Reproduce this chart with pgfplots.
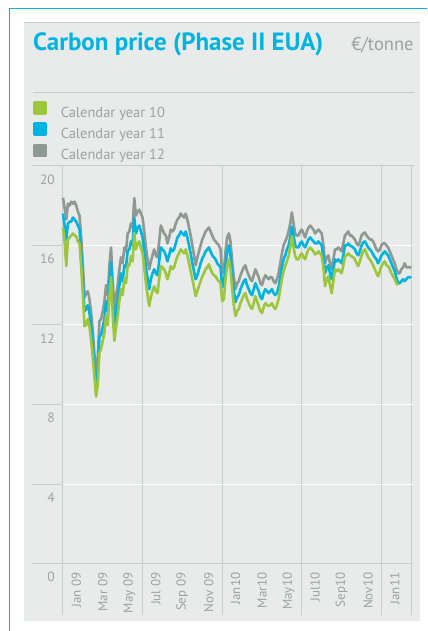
\documentclass[border=0pt]{standalone}
\usepackage{fontspec}
\setmainfont{PT Sans}
\usepackage{pgfplots}
\usepackage{pgfplotstable}
\pgfplotsset{compat=1.18}
\definecolor{cgreen}{HTML}{9CC63B}
\definecolor{ccyan}{HTML}{00B4E1}
\definecolor{cgray}{HTML}{8E9993}
\definecolor{panel}{HTML}{E9EBEA}
\definecolor{rule}{HTML}{C5CCCA}
\definecolor{txt}{HTML}{9BA29F}
\pgfplotstableread{
m g c y
0.000 16.9 17.6 18.4
0.125 16.2 17.0 17.9
0.250 14.96 16.3 17.3
0.375 16.3 17.1 18.1
0.500 16.4 17.2 18.0
0.625 16.5 17.2 18.2
0.750 16.6 17.4 18.1
0.875 16.5 17.3 18.2
1.000 16.45 17.2 18.0
1.125 16.2 17.0 17.7
1.250 16.1 16.8 17.5
1.375 14.9 15.6 16.4
1.500 13.5 14.2 15.0
1.625 11.94 12.7 13.4
1.750 12.0 12.8 13.6
1.875 12.3 13.0 13.7
2.000 11.9 12.6 13.3
2.125 11.2 11.9 12.6
2.250 10.35 11.0 11.7
2.375 9.36 9.9 10.5
2.500 8.4 8.9 9.4
2.625 9.0 9.7 10.4
2.750 10.6 11.4 12.2
2.875 10.8 11.5 12.3
3.000 11.2 11.9 12.7
3.125 11.6 12.3 13.2
3.250 12.5 13.2 14.0
3.375 12.0 12.7 13.5
3.500 13.4 14.2 15.0
3.625 14.4 15.15 15.9
3.750 12.5 13.3 14.1
3.875 11.2 11.9 12.8
4.000 11.9 12.6 13.5
4.125 12.45 13.2 14.0
4.250 13.2 14.0 14.8
4.375 13.8 14.6 15.4
4.500 13.5 14.2 15.1
4.625 14.3 15.0 15.9
4.750 14.1 14.9 15.7
4.875 14.96 15.7 16.6
5.000 15.0 15.8 16.7
5.125 15.46 16.2 17.1
5.250 15.2 16.0 16.9
5.375 16.64 17.4 18.37
5.500 15.8 16.6 17.5
5.625 16.1 16.9 17.7
5.750 16.2 17.0 17.8
5.875 15.9 16.7 17.6
6.000 15.6 16.4 17.4
6.125 14.9 15.7 16.7
6.250 14.1 14.9 15.9
6.375 13.5 14.35 15.3
6.500 12.95 13.8 14.8
6.625 13.4 14.3 15.2
6.750 13.7 14.6 15.5
6.875 13.95 14.8 15.8
7.000 13.7 14.6 15.5
7.125 13.6 14.5 15.4
7.250 14.3 15.2 16.2
7.375 14.96 15.9 17.0
7.500 14.9 15.8 16.8
7.625 14.8 15.7 16.6
7.750 14.6 15.5 16.5
7.875 14.3 15.2 16.1
8.000 14.6 15.5 16.4
8.125 14.96 15.85 16.8
8.250 14.8 15.7 16.7
8.375 14.9 15.8 16.8
8.500 15.2 16.1 17.1
8.625 15.46 16.4 17.3
8.750 15.6 16.5 17.4
8.875 15.8 16.7 17.6
9.000 15.7 16.6 17.5
9.125 15.6 16.5 17.4
9.250 15.8 16.7 17.6
9.375 15.5 16.4 17.3
9.500 15.1 16.0 16.9
9.625 14.7 15.6 16.5
9.750 14.3 15.1 16.0
9.875 13.9 14.7 15.5
10.000 13.45 14.3 15.0
10.125 13.7 14.5 15.4
10.250 13.95 14.8 15.7
10.375 14.2 15.1 16.0
10.500 14.45 15.35 16.3
10.625 14.6 15.5 16.5
10.750 14.8 15.7 16.7
10.875 14.9 15.8 16.8
11.000 15.05 15.9 16.9
11.125 14.8 15.7 16.7
11.250 14.6 15.5 16.5
11.375 14.5 15.4 16.3
11.500 14.45 15.3 16.2
11.625 14.3 15.1 16.1
11.750 14.2 15.0 16.0
11.875 14.1 14.9 15.8
12.000 13.2 13.9 14.6
12.125 13.3 14.0 14.7
12.250 14.3 15.0 15.7
12.375 15.0 15.7 16.4
12.500 15.3 16.0 16.6
12.625 14.8 15.5 16.2
12.750 13.8 14.5 15.2
12.875 13.0 13.7 14.4
13.000 12.45 13.15 13.8
13.125 12.7 13.4 14.1
13.250 12.8 13.5 14.2
13.375 13.1 13.8 14.5
13.500 13.3 14.0 14.7
13.625 13.5 14.2 14.9
13.750 13.6 14.3 15.0
13.875 13.3 14.0 14.7
14.000 13.1 13.8 14.5
14.125 12.9 13.6 14.3
14.250 12.8 13.5 14.2
14.375 13.1 13.8 14.5
14.500 13.45 14.1 14.8
14.625 13.2 13.9 14.6
14.750 12.95 13.7 14.4
14.875 12.7 13.4 14.1
15.000 12.6 13.3 14.0
15.125 12.9 13.6 14.3
15.250 13.1 13.8 14.5
15.375 13.0 13.7 14.4
15.500 12.95 13.6 14.3
15.625 13.0 13.7 14.4
15.750 13.1 13.8 14.4
15.875 12.9 13.6 14.2
16.000 12.8 13.5 14.1
16.125 13.0 13.6 14.3
16.250 13.3 13.9 14.6
16.375 13.8 14.4 15.1
16.500 14.3 14.9 15.6
16.625 14.7 15.3 16.0
16.750 14.96 15.5 16.2
16.875 15.2 15.8 16.4
17.000 15.46 16.0 16.7
17.125 15.9 16.4 17.1
17.250 16.47 16.95 17.66
17.375 15.9 16.5 17.1
17.500 15.46 16.0 16.6
17.625 15.3 15.9 16.5
17.750 15.3 15.9 16.5
17.875 15.5 16.1 16.7
18.000 15.6 16.2 16.8
18.125 15.4 16.0 16.6
18.250 15.3 15.9 16.4
18.375 15.6 16.1 16.7
18.500 15.8 16.3 16.9
18.625 15.9 16.4 17.0
18.750 15.8 16.3 16.9
18.875 15.7 16.2 16.8
19.000 15.55 16.1 16.6
19.125 15.6 16.1 16.7
19.250 15.7 16.2 16.8
19.375 15.6 16.1 16.7
19.500 15.46 16.0 16.6
19.625 14.9 15.4 16.0
19.750 13.95 14.6 15.1
19.875 14.3 14.9 15.4
20.000 14.45 15.0 15.5
20.125 14.0 14.6 15.1
20.250 13.6 14.3 14.8
20.375 14.2 14.8 15.3
20.500 14.8 15.3 15.8
20.625 14.7 15.2 15.8
20.750 14.8 15.3 15.9
20.875 14.7 15.2 15.8
21.000 14.6 15.1 15.7
21.125 15.0 15.5 16.1
21.250 15.46 16.0 16.5
21.375 15.5 16.0 16.6
21.500 15.6 16.1 16.7
21.625 15.5 16.0 16.5
21.750 15.46 15.95 16.5
21.875 15.4 15.9 16.4
22.000 15.3 15.8 16.3
22.125 15.1 15.6 16.1
22.250 14.96 15.5 16.0
22.375 15.2 15.7 16.2
22.500 15.5 16.0 16.5
22.625 15.7 16.15 16.6
22.750 15.8 16.2 16.65
22.875 15.6 16.05 16.5
23.000 15.4 15.9 16.4
23.125 15.3 15.8 16.3
23.250 15.15 15.7 16.3
23.375 15.0 15.55 16.2
23.500 14.8 15.4 16.0
23.625 14.6 15.3 15.8
23.750 14.45 15.1 15.7
23.875 14.7 15.3 15.8
24.000 14.96 15.5 16.0
24.125 15.1 15.6 16.1
24.250 15.2 15.7 16.1
24.375 15.0 15.6 16.0
24.500 14.96 15.5 15.9
24.625 14.8 15.3 15.7
24.750 14.6 15.1 15.5
24.875 14.45 14.9 15.3
25.000 14.3 14.7 15.1
25.125 14.1 14.4 14.8
25.250 14.0 14.1 14.6
25.375 nan 14.1 14.6
25.500 nan 14.2 14.8
25.625 nan 14.3 14.9
25.750 nan 14.2 15.1
25.875 nan 14.3 14.9
26.000 nan 14.4 14.9
26.250 nan 14.4 14.9
}\carbon
\begin{document}
\begin{tikzpicture}
\fill[white] (0pt,0pt) rectangle (427pt,631pt);
\fill[panel] (24pt,10pt) rectangle (420pt,608pt);
\draw[rule, line width=1pt] (24pt,608pt) -- (420pt,608pt);
\draw[ccyan, line width=0.9pt] (9pt,623pt) -- (427pt,623pt);
\draw[ccyan, line width=0.9pt] (9pt,623pt) -- (9pt,0pt);
\node[anchor=base west, inner sep=0pt, text=ccyan, font=\bfseries\fontsize{25}{30}\selectfont] at (33pt,580.5pt) {Carbon price (Phase II EUA)};
\node[anchor=base east, inner sep=0pt, text=txt, font=\fontsize{18.5}{22}\selectfont] at (414pt,580.5pt) {€/tonne};
\draw[rule, line width=0.8pt] (33pt,539pt) -- (414pt,539pt);
\begin{axis}[
  at={(63pt,67pt)}, anchor=south west,
  scale only axis, width=349pt, height=398pt,
  xmin=0, xmax=26.28, ymin=0, ymax=20,
  clip=false,
  axis line style={draw=none},
  major tick length=0pt,
  /pgf/number format/assume math mode=true,
  ytick={0,4,...,20},
  ymajorgrids, y grid style={white, line width=1pt},
  yticklabel style={anchor=east, inner sep=0pt, xshift=-8pt, yshift=-13.5pt, text=txt, font=\fontsize{13.5}{14}\selectfont},
  xtick={0,6,12,18,24,26.28},
  xticklabels={,,,,,},
  xmajorgrids, x grid style={rule, line width=1pt},
  extra x ticks={1,3,...,25},
  extra x tick labels={Jan 09,Mar 09,May 09,Jul 09,Sep 09,Nov 09,Jan10,Mar10,May10,Jul10,Sep10,Nov10,Jan11},
  extra x tick style={grid=none},
  xticklabel style={yshift=-9pt, rotate=90, anchor=east, inner sep=0pt, text=txt, font=\fontsize{13}{13}\selectfont},
  reverse legend,
  legend cell align=left,
  legend image code/.code={\fill[#1] (0pt,0pt) rectangle (11pt,11pt); \path (25pt,0pt);},
  legend style={at={(-30pt,463pt)}, anchor=north west, draw=none, fill=none, inner sep=0pt, row sep=2pt,
    nodes={inner sep=0pt, text=txt, font=\fontsize{14.5}{15}\selectfont, text height=11pt, text depth=3pt}},
]
\addplot[cgray, line width=2.6pt, line join=round] table[x=m, y=y] {\carbon};
\addlegendentry{Calendar year 12}
\addplot[ccyan, line width=2.6pt, line join=round] table[x=m, y=c] {\carbon};
\addlegendentry{Calendar year 11}
\addplot[cgreen, line width=2.6pt, line join=round] table[x=m, y=g] {\carbon};
\addlegendentry{Calendar year 10}
\draw[rule, line width=1pt] (axis cs:0,20) ++(-31pt,0pt) -- (axis cs:26.28,20) -- ++(2pt,0pt);
\draw[rule, line width=1pt] (axis cs:0,0) ++(-31pt,0pt) -- (axis cs:26.28,0);
\draw[rule, line width=1pt] (axis cs:0,4) -- ++(-31pt,0pt);
\draw[rule, line width=1pt] (axis cs:0,8) -- ++(-31pt,0pt);
\draw[rule, line width=1pt] (axis cs:0,12) -- ++(-31pt,0pt);
\draw[rule, line width=1pt] (axis cs:0,16) -- ++(-31pt,0pt);
\draw[rule, line width=1pt] (axis cs:0,0) -- ++(0pt,-51pt);
\draw[rule, line width=1pt] (axis cs:6,0) -- ++(0pt,-51pt);
\draw[rule, line width=1pt] (axis cs:12,0) -- ++(0pt,-51pt);
\draw[rule, line width=1pt] (axis cs:18,0) -- ++(0pt,-51pt);
\draw[rule, line width=1pt] (axis cs:24,0) -- ++(0pt,-51pt);
\draw[rule, line width=1pt] (axis cs:26.28,0) -- ++(0pt,-51pt);
\end{axis}
\end{tikzpicture}
\end{document}
